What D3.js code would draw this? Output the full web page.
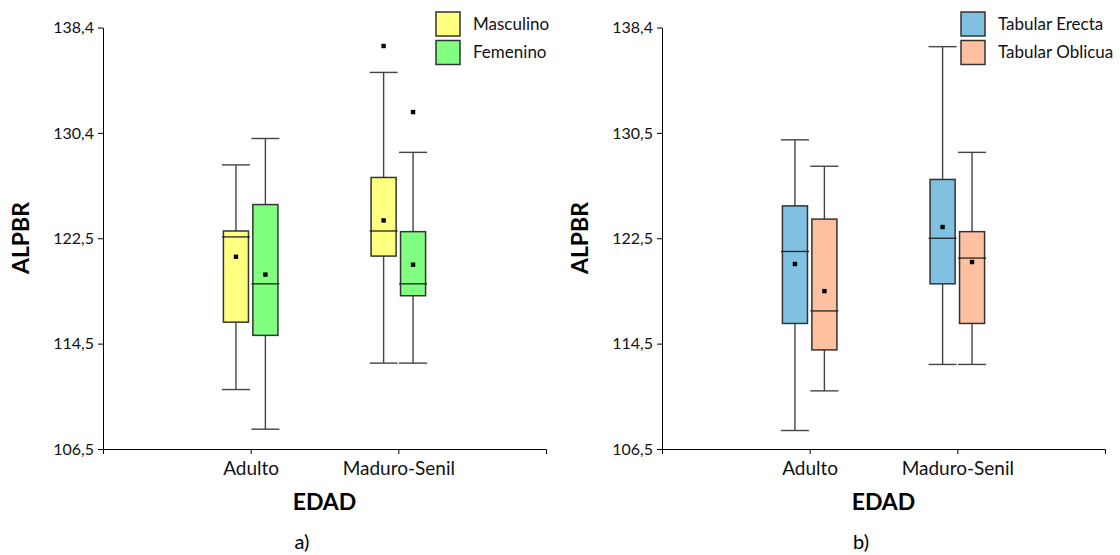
<!DOCTYPE html>
<html>
<head>
<meta charset="utf-8">
<script src="https://cdn.jsdelivr.net/npm/d3@7"></script>
<style>
  body { margin: 0; background: #fff; }
  svg { font-family: Lato, "Noto Sans", sans-serif; }
  .axis path, .axis line { stroke: #000; }
  .axis text { fill: #111; font-family: Lato, "Noto Sans", sans-serif; }
  .y-axis text { font-size: 16px; }
  .x-axis text { font-size: 19px; }
</style>
</head>
<body>
<div id="chart"></div>
<script>
// categories on the x axis
var categories = ["Adulto", "Maduro-Senil"];

// y axis (same range in both panels, labels differ a bit)
var yDomain = [106.5, 138.4];
var tickLabelsA = ["106,5", "114,5", "122,5", "130,4", "138,4"];
var tickLabelsB = ["106,5", "114,5", "122,5", "130,5", "138,4"];

// panel a) - sexo
var seriesA = ["Masculino", "Femenino"];
var colorsA = ["#ffff80", "#80ff80"];
var masculino = [
    {cat: "Adulto", min: 111.0, q1: 116.1, median: 122.55, q3: 123.0, max: 128.0, mean: 121.05, outliers: []},
    {cat: "Maduro-Senil", min: 113.0, q1: 121.1, median: 123.0, q3: 127.05, max: 135.0, mean: 123.8, outliers: [137.0]}
];
var femenino = [
    {cat: "Adulto", min: 108.0, q1: 115.1, median: 119.0, q3: 125.0, max: 130.0, mean: 119.7, outliers: []},
    {cat: "Maduro-Senil", min: 113.0, q1: 118.1, median: 119.0, q3: 122.95, max: 128.95, mean: 120.45, outliers: [132.0]}
];

// panel b) - tipo de deformacion
var seriesB = ["Tabular Erecta", "Tabular Oblicua"];
var colorsB = ["#80c0e0", "#ffc0a0"];
var erecta = [
    {cat: "Adulto", min: 107.9, q1: 116.0, median: 121.45, q3: 124.9, max: 129.9, mean: 120.5, outliers: []},
    {cat: "Maduro-Senil", min: 112.9, q1: 119.0, median: 122.45, q3: 126.9, max: 136.95, mean: 123.3, outliers: []}
];
var oblicua = [
    {cat: "Adulto", min: 110.9, q1: 114.0, median: 116.95, q3: 123.9, max: 127.9, mean: 118.45, outliers: []},
    {cat: "Maduro-Senil", min: 112.9, q1: 116.0, median: 120.95, q3: 122.95, max: 128.95, mean: 120.65, outliers: []}
];


var svg = d3.select("#chart").append("svg")
    .attr("width", 1120)
    .attr("height", 555);

function drawPanel(left, seriesNames, seriesData, colors, tickLabels, legendX, panelLabel) {
    var width = 443;
    var g = svg.append("g")
        .attr("transform", "translate(" + left + ",0)");

    var y = d3.scaleLinear()
        .domain(yDomain)
        .range([449, 27.5]);

    var x = d3.scalePoint()
        .domain(categories)
        .range([0, width])
        .padding(1);

    var xSub = d3.scaleBand()
        .domain(seriesNames)
        .range([-27.25, 27.25])
        .paddingInner(0.15);

    var tickVals = d3.range(5).map(function (i) {
        return yDomain[0] + i * (yDomain[1] - yDomain[0]) / 4;
    });

    var yAxis = d3.axisLeft(y)
        .tickValues(tickVals)
        .tickFormat(function (d, i) { return tickLabels[i]; })
        .tickSize(5)
        .tickSizeOuter(0)
        .tickPadding(4);

    var xAxis = d3.axisBottom(x)
        .tickSize(5)
        .tickSizeOuter(5)
        .tickPadding(8);

    g.append("g")
        .attr("class", "axis y-axis")
        .call(yAxis);

    g.append("g")
        .attr("class", "axis x-axis")
        .attr("transform", "translate(0,449)")
        .call(xAxis);

    var bw = xSub.bandwidth();
    var capW = bw + 3;

    seriesNames.forEach(function (name, si) {
        var sg = g.append("g").attr("class", "series");
        var data = seriesData[si];

        function cx(d) { return x(d.cat) + xSub(name) + bw / 2; }

        // whiskers
        sg.selectAll(".whisker")
            .data(data)
            .enter()
            .append("line")
            .attr("class", "whisker")
            .attr("x1", cx)
            .attr("x2", cx)
            .attr("y1", function (d) { return y(d.min); })
            .attr("y2", function (d) { return y(d.max); })
            .style("stroke", "#444")
            .style("stroke-width", 1.4);

        ["min", "max"].forEach(function (k) {
            sg.selectAll(".cap-" + k)
                .data(data)
                .enter()
                .append("line")
                .attr("class", "cap-" + k)
                .attr("x1", function (d) { return cx(d) - capW / 2; })
                .attr("x2", function (d) { return cx(d) + capW / 2; })
                .attr("y1", function (d) { return y(d[k]); })
                .attr("y2", function (d) { return y(d[k]); })
                .style("stroke", "#444")
                .style("stroke-width", 1.4);
        });

        // boxes
        sg.selectAll("rect.box")
            .data(data)
            .enter()
            .append("rect")
            .attr("class", "box")
            .attr("x", function (d) { return x(d.cat) + xSub(name); })
            .attr("y", function (d) { return y(d.q3); })
            .attr("width", bw)
            .attr("height", function (d) { return y(d.q1) - y(d.q3); })
            .style("fill", colors[si])
            .style("stroke", "#333")
            .style("stroke-width", 1.5);

        // median
        sg.selectAll(".median")
            .data(data)
            .enter()
            .append("line")
            .attr("class", "median")
            .attr("x1", function (d) { return cx(d) - capW / 2; })
            .attr("x2", function (d) { return cx(d) + capW / 2; })
            .attr("y1", function (d) { return y(d.median); })
            .attr("y2", function (d) { return y(d.median); })
            .style("stroke", "#222")
            .style("stroke-width", 1.3);

        // mean
        sg.selectAll(".mean")
            .data(data)
            .enter()
            .append("rect")
            .attr("class", "mean")
            .attr("x", function (d) { return cx(d) - 2.2; })
            .attr("y", function (d) { return y(d.mean) - 2.2; })
            .attr("width", 4.4)
            .attr("height", 4.4)
            .style("fill", "#000");

        // outliers
        var outl = [];
        data.forEach(function (d) {
            d.outliers.forEach(function (v) { outl.push({cat: d.cat, v: v}); });
        });
        sg.selectAll(".outlier")
            .data(outl)
            .enter()
            .append("rect")
            .attr("class", "outlier")
            .attr("x", function (d) { return cx(d) - 2.2; })
            .attr("y", function (d) { return y(d.v) - 2.2; })
            .attr("width", 4.4)
            .attr("height", 4.4)
            .style("fill", "#000");
    });

    // axis titles
    g.append("text")
        .attr("transform", "translate(-74,238) rotate(-90)")
        .attr("text-anchor", "middle")
        .style("font-size", "23px")
        .style("font-weight", "bold")
        .text("ALPBR");

    g.append("text")
        .attr("x", width / 2)
        .attr("y", 510)
        .attr("text-anchor", "middle")
        .style("font-size", "23px")
        .style("font-weight", "bold")
        .text("EDAD");

    g.append("text")
        .attr("x", 199)
        .attr("y", 549)
        .attr("text-anchor", "middle")
        .style("font-size", "20px")
        .text(panelLabel);

    // legend
    var legend = svg.append("g")
        .attr("transform", "translate(" + legendX + ",12)");
    seriesNames.forEach(function (name, i) {
        legend.append("rect")
            .attr("x", 0)
            .attr("y", i * 28.5)
            .attr("width", 24)
            .attr("height", 24)
            .style("fill", colors[i])
            .style("stroke", "#333")
            .style("stroke-width", 1.5);
        legend.append("text")
            .attr("x", 37)
            .attr("y", i * 28.5 + 12)
            .attr("dy", "0.35em")
            .style("font-size", "17px")
            .style("fill", "#111")
            .text(name);
    });
}

drawPanel(103, seriesA, [masculino, femenino], colorsA, tickLabelsA, 436, "a)");
drawPanel(662, seriesB, [erecta, oblicua], colorsB, tickLabelsB, 961, "b)");
</script>
</body>
</html>
